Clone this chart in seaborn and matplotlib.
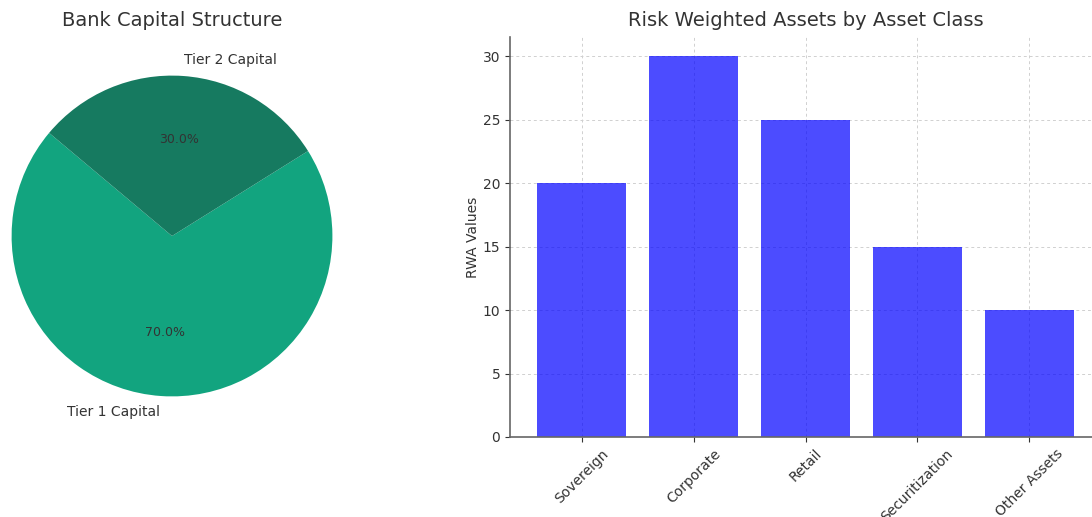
import matplotlib
matplotlib.use("Agg")
import matplotlib.pyplot as plt
import seaborn as sns
import pandas as pd

# Capital structure (pie)
capital_labels = ["Tier 1 Capital", "Tier 2 Capital"]
capital_shares = [70, 30]
capital_colors = ["#12a47f", "#167a60"]

# Risk weighted assets (bars)
asset_classes = ["Sovereign", "Corporate", "Retail", "Securitization", "Other Assets"]
rwa_values = [20, 30, 25, 15, 10]

sns.set_theme(style="ticks", rc={
    "text.color": "#333333",
    "axes.labelcolor": "#333333",
    "xtick.color": "#333333",
    "ytick.color": "#333333",
    "axes.edgecolor": "#666666",
})
plt.rcParams["font.family"] = ["DejaVu Sans"]

W, H = 1092, 517
fig = plt.figure(figsize=(W / 100, H / 100), dpi=100)

# Pie axes: square box centred on the pie
cx, cy, half = 172, 236, 200.5
ax_pie = fig.add_axes([(cx - half) / W, (H - cy - half) / H, 2 * half / W, 2 * half / H])
ax_pie.pie(
    capital_shares,
    labels=capital_labels,
    colors=capital_colors,
    autopct="%1.1f%%",
    startangle=140,
    wedgeprops={"linewidth": 0, "edgecolor": "none"},
    textprops={"fontsize": 10, "color": "#333333"},
)
for t in ax_pie.texts[1::2]:
    t.set_fontsize(9)
ax_pie.set_aspect("equal")
ax_pie.set_title("Bank Capital Structure", fontsize=14, color="#333333", pad=7)

# Bar axes
ax_bar = fig.add_axes([510 / W, 80 / H, 591 / W, 400 / H])
df = pd.DataFrame({"asset": asset_classes, "rwa": rwa_values})
sns.barplot(data=df, x="asset", y="rwa", color="blue", alpha=0.7,
            saturation=1, width=0.8, linewidth=0, ax=ax_bar, zorder=2)
n = len(asset_classes)
ax_bar.set_xlim(-0.4 - 0.24, n - 1 + 0.4 + 0.24)
ax_bar.set_ylim(0, max(rwa_values) * 1.05)
ax_bar.set_axisbelow(True)
ax_bar.grid(True, linestyle=(0, (3, 3)), color="#d0d0d0", linewidth=0.7, zorder=0)
ax_bar.set_title("Risk Weighted Assets by Asset Class", fontsize=14, color="#333333", pad=8)
ax_bar.set_xlabel("")
ax_bar.set_ylabel("RWA Values", fontsize=10, labelpad=2)
ax_bar.tick_params(axis="x", labelrotation=45, labelsize=10, length=3.5, width=0.8)
ax_bar.tick_params(axis="y", labelsize=10, length=3.5, width=0.8)
sns.despine(ax=ax_bar, top=True, right=True)
ax_bar.spines["left"].set_linewidth(1.2)
ax_bar.spines["bottom"].set_linewidth(1.2)

fig.savefig("out.png", dpi=100)
